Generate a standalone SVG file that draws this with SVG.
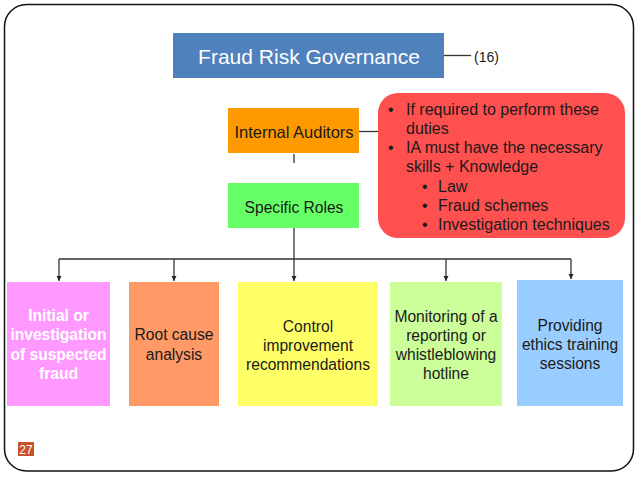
<svg xmlns="http://www.w3.org/2000/svg" width="638" height="479" viewBox="0 0 638 479">
<defs>
<marker id="ah" viewBox="0 0 10 10" refX="10" refY="5" markerWidth="5" markerHeight="6" markerUnits="userSpaceOnUse" orient="auto">
<path d="M0,0 L10,5 L0,10 z" fill="#222"/>
</marker>
<style>
text{font-family:"Liberation Sans",Arial,sans-serif;fill:#1a1a1a}
.c{text-anchor:middle}
.b{font-size:15.6px}
.r{font-size:16px}
.ln{stroke:#333;stroke-width:1.3;fill:none}
</style>
</defs>
<rect x="0" y="0" width="638" height="479" fill="#fff"/>
<rect x="4.5" y="4.5" width="629" height="466.5" rx="22" ry="22" fill="#fff" stroke="#111" stroke-width="1.5"/>

<g id="connectors">
<line class="ln" x1="444" y1="55.5" x2="471" y2="55.5"/>
<line class="ln" x1="359" y1="131.5" x2="379" y2="131.5"/>
<line class="ln" x1="294" y1="154" x2="294" y2="163"/>
<line class="ln" x1="294" y1="228" x2="294" y2="259"/>
<line class="ln" x1="59" y1="259" x2="571" y2="259"/>
<line class="ln" x1="59" y1="259" x2="59" y2="281" marker-end="url(#ah)"/>
<line class="ln" x1="174" y1="259" x2="174" y2="281" marker-end="url(#ah)"/>
<line class="ln" x1="294" y1="259" x2="294" y2="281" marker-end="url(#ah)"/>
<line class="ln" x1="446" y1="259" x2="446" y2="281" marker-end="url(#ah)"/>
<line class="ln" x1="571" y1="259" x2="571" y2="279" marker-end="url(#ah)"/>
</g>

<g id="frg">
<rect x="173" y="33" width="271" height="45" fill="#4f81bd"/>
<text x="309" y="64" class="c" style="font-size:21px;fill:#fff">Fraud Risk Governance</text>
</g>
<g id="ref16">
<text x="474" y="62" style="font-size:14px">(16)</text>
</g>

<g id="internal-auditors">
<rect x="228" y="108" width="131" height="45" fill="#ff9900"/>
<text x="294" y="138" class="c" style="font-size:16.5px">Internal Auditors</text>
</g>

<g id="specific-roles">
<rect x="228" y="183" width="131" height="45" fill="#66ff66"/>
<text x="294" y="213" class="c" style="font-size:15.6px">Specific Roles</text>
</g>

<g id="note">
<rect x="378" y="93" width="247" height="145" rx="20" ry="20" fill="#ff5050"/>
<g class="r">
<text x="388" y="115">•</text><text x="406" y="115">If required to perform these</text>
<text x="406" y="134">duties</text>
<text x="388" y="153">•</text><text x="406" y="153">IA must have the necessary</text>
<text x="406" y="172">skills + Knowledge</text>
<text x="422" y="192">•</text><text x="438" y="192">Law</text>
<text x="422" y="211">•</text><text x="438" y="211">Fraud schemes</text>
<text x="422" y="230">•</text><text x="438" y="230">Investigation techniques</text>
</g>
</g>

<g id="initial">
<rect x="7" y="282" width="103" height="124" fill="#ff99ff"/>
<g class="b c" style="fill:#fff;font-weight:bold">
<text x="58.5" y="321" style="fill:#fff">Initial or</text>
<text x="58.5" y="340" style="fill:#fff">investigation</text>
<text x="58.5" y="360" style="fill:#fff">of suspected</text>
<text x="58.5" y="379" style="fill:#fff">fraud</text>
</g>
</g>

<g id="root-cause">
<rect x="129" y="282" width="90" height="124" fill="#ff9966"/>
<text x="174" y="340" class="b c">Root cause</text>
<text x="174" y="360" class="b c">analysis</text>
</g>

<g id="control">
<rect x="238" y="282" width="140" height="124" fill="#ffff66"/>
<text x="308" y="332" class="b c">Control</text>
<text x="308" y="351" class="b c">improvement</text>
<text x="308" y="370" class="b c">recommendations</text>
</g>

<g id="monitoring">
<rect x="390" y="282" width="112" height="124" fill="#ccff99"/>
<text x="446" y="322" class="b c">Monitoring of a</text>
<text x="446" y="341" class="b c">reporting or</text>
<text x="446" y="360" class="b c">whistleblowing</text>
<text x="446" y="379" class="b c">hotline</text>
</g>

<g id="ethics">
<rect x="517" y="280" width="106" height="126" fill="#99ccff"/>
<text x="570" y="331" class="b c">Providing</text>
<text x="570" y="350" class="b c">ethics training</text>
<text x="570" y="369" class="b c">sessions</text>
</g>

<g id="page-number">
<rect x="18" y="442" width="16" height="14" fill="#c8512a"/>
<text x="26" y="454" class="c" style="font-size:12px;fill:#fff">27</text>
</g>
</svg>
